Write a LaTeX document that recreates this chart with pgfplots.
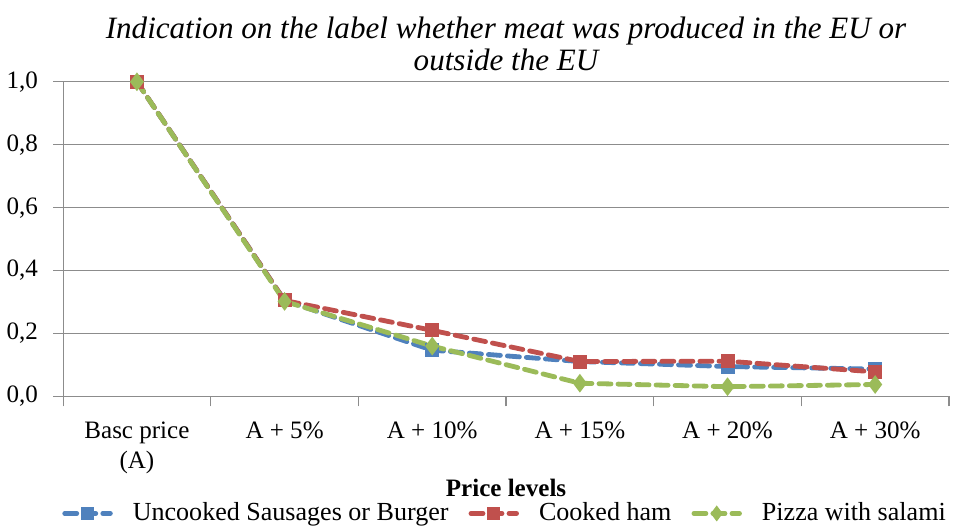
\documentclass[border=0pt]{standalone}
\usepackage{pgfplots}
\pgfplotsset{compat=1.18}
\usepackage{fontspec}
\setmainfont{Liberation Serif}
\definecolor{cblue}{HTML}{4F81BD}
\definecolor{cred}{HTML}{C0504D}
\definecolor{cgreen}{HTML}{9BBB59}
\definecolor{cgrid}{HTML}{8C8C8C}
\begin{document}
\begin{tikzpicture}
\begin{axis}[
  scale only axis,
  width=442pt, height=157pt,
  xmin=-0.5, xmax=5.5, ymin=0, ymax=1,
  xtick={-0.5,0.5,...,5.5},
  x tick label as interval,
  xticklabels={{Basc price\\(A)},{A + 5\%},{A + 10\%},{A + 15\%},{A + 20\%},{A + 30\%}},
  xticklabel style={align=center, font=\fontsize{12.5}{15}\selectfont, yshift=-4pt},
  ytick={0,0.2,...,1.0},
  yticklabel style={font=\fontsize{12.5}{15}\selectfont, xshift=-4pt},
  /pgf/number format/.cd, use comma, fixed, fixed zerofill, precision=1, assume math mode=true,
  /pgfplots/.cd,
  axis x line*=bottom, axis y line*=left,
  axis line style={cgrid, line width=0.6pt},
  tick style={cgrid, line width=0.6pt},
  tick align=outside, major tick length=5pt,
  ymajorgrids, grid style={cgrid, line width=0.6pt},
  xlabel={\textbf{Price levels}},
  xlabel style={font=\fontsize{12.5}{15}\selectfont, yshift=4pt},
  title={Indication on the label whether meat was produced in the EU or\\outside the EU},
  title style={align=center, font=\fontsize{15.5}{16}\selectfont\itshape, yshift=-4pt},
  legend style={at={(0.5,-0.318)}, anchor=north, draw=none, fill=none, legend columns=3,
    font=\fontsize{13}{15}\selectfont, column sep=8pt, inner sep=1pt},
  legend image code/.code={\draw[#1, mark size=2pt] (0pt,0pt) -- (0.8cm,0pt); \draw[#1, solid, mark size=2pt] plot coordinates {(0.4cm,0pt)};},
  every axis plot/.append style={line width=2.4pt, dash pattern=on 6pt off 3.5pt, line cap=round},
]
\addplot[cblue, mark=square*, mark size=2.3pt, mark options={solid, fill=cblue}] coordinates {
  (0,1.0) (1,0.305) (2,0.147) (3,0.111) (4,0.095) (5,0.087)};
\addlegendentry{Uncooked Sausages or Burger}
\addplot[cred, mark=square*, mark size=2.3pt, mark options={solid, fill=cred}] coordinates {
  (0,1.0) (1,0.305) (2,0.210) (3,0.111) (4,0.112) (5,0.078)};
\addlegendentry{Cooked ham}
\addplot[cgreen, mark=diamond*, mark size=2.7pt, mark options={solid, fill=cgreen}] coordinates {
  (0,1.0) (1,0.302) (2,0.160) (3,0.042) (4,0.031) (5,0.038)};
\addlegendentry{Pizza with salami}
\end{axis}
\path (current axis.east) ++(3.5pt,0);
\path (current axis.outer north) ++(0,5pt);
\end{tikzpicture}
\end{document}
